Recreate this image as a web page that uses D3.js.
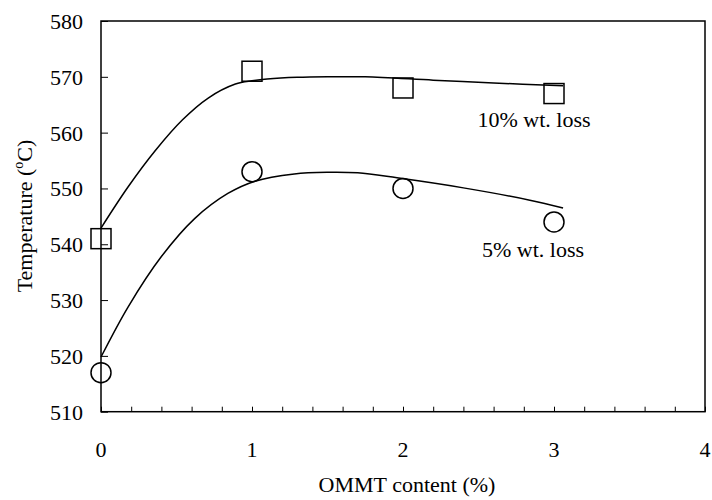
<!DOCTYPE html>
<html>
<head>
<meta charset="utf-8">
<script src="https://cdn.jsdelivr.net/npm/d3@7"></script>
<style>
  html, body { margin: 0; padding: 0; background: #fff; }
  svg { display: block; }
</style>
</head>
<body>
<svg id="chart" width="712" height="500"></svg>
<script>
// OMMT loading (wt%) and onset temperatures
const ommt = [0, 1, 2, 3];
const loss10 = [541, 571, 568, 567];
const loss5 = [517, 553, 550, 544];

// Smoothed trend lines through each series
const trend10X = [0, 0.18, 0.36, 0.54, 0.71, 0.89, 1.0, 1.1, 1.3, 1.5, 1.75, 2.2, 2.6, 3.06];
const trend10Y = [542.9, 550.3, 556.8, 562.3, 566.2, 568.7, 569.3, 569.6, 569.9, 570.0, 570.0, 569.4, 568.9, 568.4];
const trend5X = [0, 0.18, 0.40, 0.62, 0.84, 1.02, 1.28, 1.50, 1.70, 1.96, 2.40, 2.84, 3.06];
const trend5Y = [519.8, 528.8, 537.8, 544.6, 549.1, 551.3, 552.6, 552.9, 552.8, 551.9, 550.1, 547.9, 546.5];

const xTicks = [0, 1, 2, 3, 4];
const yTicks = [510, 520, 530, 540, 550, 560, 570, 580];

const FONT = "'Liberation Serif', 'Times New Roman', Times, 'DejaVu Serif', serif";

const svg = d3.select("#chart")
  .attr("font-family", FONT);
const plotL = 101, plotR = 705, plotT = 21, plotB = 411.7;

const x = d3.scaleLinear().domain([0, 4]).range([plotL, plotR]);
const y = d3.scaleLinear().domain([510, 580]).range([plotB, plotT]);

// frame
svg.append("rect")
  .attr("x", plotL).attr("y", plotT)
  .attr("width", plotR - plotL).attr("height", plotB - plotT)
  .attr("fill", "none").attr("stroke", "#000").attr("stroke-width", 1.5);

// x axis: minor ticks every 0.2 pointing inward
const xAxis = d3.axisBottom(x).tickValues(d3.range(0, 4.001, 0.2)).tickSize(-5).tickFormat("");
const gx = svg.append("g").attr("transform", `translate(0,${plotB})`).call(xAxis);
gx.select(".domain").remove();
gx.selectAll(".tick line").attr("stroke", "#000").attr("stroke-width", 1);

svg.append("g").selectAll("text").data(xTicks).join("text")
  .attr("x", d => x(d)).attr("y", 457)
  .attr("text-anchor", "middle").attr("font-size", 22).attr("font-family", FONT)
  .text(d => d);

// y axis: inward ticks
const yAxis = d3.axisLeft(y).tickValues(yTicks).tickSize(-7).tickFormat("");
const gy = svg.append("g").attr("transform", `translate(${plotL},0)`).call(yAxis);
gy.select(".domain").remove();
gy.selectAll(".tick line").attr("stroke", "#000").attr("stroke-width", 1);

svg.append("g").selectAll("text").data(yTicks).join("text")
  .attr("x", 83).attr("y", d => y(d) + 8)
  .attr("text-anchor", "end").attr("font-size", 22).attr("font-family", FONT)
  .text(d => d);

// axis titles
svg.append("text")
  .attr("x", 407).attr("y", 492)
  .attr("text-anchor", "middle").attr("font-size", 22).attr("font-family", FONT)
  .text("OMMT content (%)");

const yt = svg.append("text")
  .attr("transform", "translate(32,216) rotate(-90)")
  .attr("text-anchor", "middle").attr("font-size", 22).attr("font-family", FONT);
yt.append("tspan").text("Temperature (");
yt.append("tspan").attr("font-size", 14).attr("dy", -9).text("o");
yt.append("tspan").attr("dy", 9).text("C)");

// trend lines
const line = d3.line()
  .x(d => x(d[0])).y(d => y(d[1]))
  .curve(d3.curveCatmullRom.alpha(0.5));

svg.append("path")
  .datum(d3.zip(trend10X, trend10Y))
  .attr("d", line).attr("fill", "none").attr("stroke", "#000").attr("stroke-width", 1.5);
svg.append("path")
  .datum(d3.zip(trend5X, trend5Y))
  .attr("d", line).attr("fill", "none").attr("stroke", "#000").attr("stroke-width", 1.5);

// markers
const sq = 20;
svg.append("g").selectAll("rect").data(d3.zip(ommt, loss10)).join("rect")
  .attr("x", d => x(d[0]) - sq / 2).attr("y", d => y(d[1]) - sq / 2)
  .attr("width", sq).attr("height", sq)
  .attr("fill", "none").attr("stroke", "#000").attr("stroke-width", 1.5);

svg.append("g").selectAll("circle").data(d3.zip(ommt, loss5)).join("circle")
  .attr("cx", d => x(d[0])).attr("cy", d => y(d[1])).attr("r", 10)
  .attr("fill", "none").attr("stroke", "#000").attr("stroke-width", 1.5);

// series labels
svg.append("text").attr("x", 534).attr("y", 127)
  .attr("text-anchor", "middle").attr("font-size", 22).attr("font-family", FONT)
  .text("10% wt. loss");
svg.append("text").attr("x", 533).attr("y", 257)
  .attr("text-anchor", "middle").attr("font-size", 22).attr("font-family", FONT)
  .text("5% wt. loss");
</script>
</body>
</html>
